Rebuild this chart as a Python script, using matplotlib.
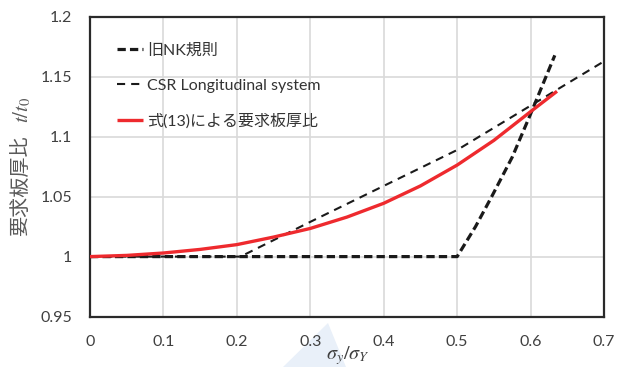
import matplotlib
matplotlib.use("Agg")
import matplotlib.pyplot as plt
from matplotlib.patches import Polygon

plt.rcParams['font.family'] = ['Lato', 'Noto Sans CJK JP', 'DejaVu Sans']
plt.rcParams['mathtext.fontset'] = 'stix'

# Old NK rule
nk_x = [0.0, 0.5, 0.525, 0.547, 0.575, 0.6, 0.633]
nk_y = [1.0, 1.0, 1.025, 1.05, 1.083, 1.119, 1.168]

# CSR longitudinal system
csr_x = [0.0, 0.205, 0.3, 0.4, 0.5, 0.6, 0.7]
csr_y = [1.0, 1.0, 1.029, 1.059, 1.089, 1.126, 1.163]

# Required thickness ratio by Eq.(13)
eq_x = [0.0, 0.05, 0.1, 0.15, 0.2, 0.25, 0.3, 0.35, 0.4, 0.45, 0.5, 0.55, 0.6, 0.636]
eq_y = [1.0, 1.001, 1.003, 1.006, 1.010, 1.0163, 1.0235, 1.033, 1.0445,
        1.059, 1.0764, 1.097, 1.121, 1.138]

labels = ['旧NK規則', 'CSR Longitudinal system', '式(13)による要求板厚比']
x_ticks = [0, 0.1, 0.2, 0.3, 0.4, 0.5, 0.6, 0.7]
x_tick_labels = ['0', '0.1', '0.2', '0.3', '0.4', '0.5', '0.6', '0.7']
y_ticks = [0.95, 1.0, 1.05, 1.1, 1.15, 1.2]
y_tick_labels = ['0.95', '1', '1.05', '1.1', '1.15', '1.2']

W, H = 631, 367
fig = plt.figure(figsize=(W / 100, H / 100), dpi=100)

# faint light-blue shape behind the x-axis title
fig.patches.append(Polygon([(283 / W, 1 - 367 / H), (328 / W, 1 - 323 / H), (346 / W, 1 - 367 / H)],
                           closed=True, transform=fig.transFigure, facecolor='#e9f0f9',
                           edgecolor='none', zorder=-5))

ax = fig.add_axes([90 / W, 1 - 316.5 / H, (604 - 90) / W, (316.5 - 17) / H])
ax.set_xlim(0, 0.7)
ax.set_ylim(0.95, 1.2)

ax.plot(nk_x, nk_y, color='#1a1a1a', lw=2.3, dashes=(2.6, 1.3), label=labels[0], zorder=3)
ax.plot(csr_x, csr_y, color='#1a1a1a', lw=1.5, dashes=(3.9, 2.9), label=labels[1], zorder=3)
ax.plot(eq_x, eq_y, color='#ee2a2e', lw=2.4, solid_capstyle='butt', solid_joinstyle='round',
        label=labels[2], zorder=4)

ax.set_xticks(x_ticks)
ax.set_xticklabels(x_tick_labels)
ax.set_yticks(y_ticks)
ax.set_yticklabels(y_tick_labels)
ax.tick_params(length=0, labelsize=11.5, labelcolor='#404040')
ax.tick_params(axis='x', pad=13)
ax.tick_params(axis='y', pad=13)
ax.grid(True, color='#d9d9d9', lw=1.2)
ax.set_axisbelow(True)
for s in ax.spines.values():
    s.set_color('#2a2a2a')
    s.set_linewidth(1.6)

# y-axis title: Japanese words plus the math ratio
fig.text(22 / W, 1 - 186 / H, '要求板厚比', rotation=90, ha='center', va='center',
         fontsize=14.5, color='#595959', family=['Noto Sans CJK JP'])
fig.text(22 / W, 1 - 110 / H, '$t/t_0$', rotation=90, ha='center', va='center',
         fontsize=15, color='#595959')

fig.text(348 / W, 1 - 356 / H, r'$\sigma_y/\sigma_Y$', ha='center', va='center',
         fontsize=14.5, color='#404040')

ax.legend(loc='upper left', bbox_to_anchor=(0.025, 0.96), frameon=False,
          fontsize=11.5, handlelength=1.63, handletextpad=0.25, labelspacing=1.3,
          labelcolor='#333333')

fig.savefig('out.png', dpi=100)
